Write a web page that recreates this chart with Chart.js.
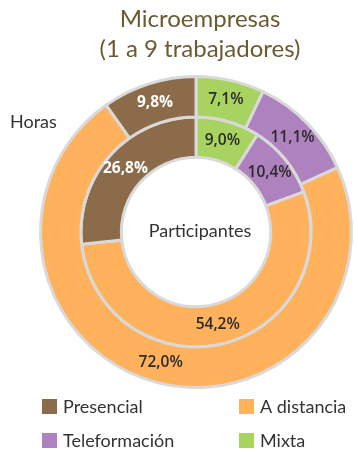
<!DOCTYPE html>
<html>
<head>
<meta charset="utf-8">
<script src="https://cdn.jsdelivr.net/npm/chart.js@4.4.1/dist/chart.umd.min.js"></script>
<style>
  html, body { margin: 0; padding: 0; background: #fff; }
  #wrap { width: 358px; height: 453px; position: relative; }
</style>
</head>
<body>
<div id="wrap"><canvas id="myChart" width="358" height="453"></canvas></div>
<script>
// modalidades, en el orden del anillo (sentido horario desde arriba)
const categorias = ['Mixta', 'Teleformación', 'A distancia', 'Presencial'];
const colores = ['#A9D361', '#AE82BE', '#FFB15B', '#8B6B4A'];
// anillo exterior: horas (%)
const horas = [7.1, 11.1, 72.0, 9.8];
// anillo interior: participantes (%)
const participantes = [9.0, 10.4, 54.2, 26.8];
// orden de la leyenda
const leyenda = ['Presencial', 'A distancia', 'Teleformación', 'Mixta'];

const titulo = ['Microempresas', '(1 a 9 trabajadores)'];

function colorDe(nombre) {
    return colores[categorias.indexOf(nombre)];
}

// etiquetas de porcentaje sobre cada segmento
const etiquetasPlugin = {
    id: 'etiquetas',
    afterDatasetsDraw(chart) {
        const ctx = chart.ctx;
        ctx.save();
        ctx.textAlign = 'center';
        ctx.textBaseline = 'middle';
        chart.data.datasets.forEach((ds, i) => {
            chart.getDatasetMeta(i).data.forEach((arc, j) => {
                const p = arc.tooltipPosition();
                const txt = ds.data[j].toFixed(1).replace('.', ',') + '%';
                const blanco = categorias[j] === 'Presencial';
                ctx.font = (blanco ? '700' : '600') + ' 15.5px "Open Sans", sans-serif';
                ctx.fillStyle = blanco ? '#ffffff' : '#2b2b2b';
                ctx.fillText(txt, p.x, p.y);
            });
        });
        ctx.restore();
    }
};

// título, textos de los anillos y leyenda
const textosPlugin = {
    id: 'textos',
    afterDraw(chart) {
        const ctx = chart.ctx;
        const area = chart.chartArea;
        const cx = (area.left + area.right) / 2;
        const cy = (area.top + area.bottom) / 2;
        ctx.save();
        ctx.textBaseline = 'alphabetic';
        ctx.textAlign = 'center';
        ctx.fillStyle = '#6B5A32';
        ctx.font = '24px Lato, "Open Sans", sans-serif';
        ctx.fillText(titulo[0], 200, 27);
        ctx.fillText(titulo[1], 200, 57);

        ctx.fillStyle = '#333333';
        ctx.font = '18px Lato, "Open Sans", sans-serif';
        ctx.textBaseline = 'middle';
        ctx.fillText('Participantes', cx + 4, cy - 1);
        ctx.textAlign = 'left';
        ctx.fillText('Horas', 10, 122);

        // leyenda en dos columnas
        const colX = [42, 239];
        const filaY = [406, 440];
        leyenda.forEach((nombre, k) => {
            const x = colX[k % 2];
            const y = filaY[Math.floor(k / 2)];
            ctx.fillStyle = colorDe(nombre);
            ctx.fillRect(x, y - 7, 15, 15);
            ctx.fillStyle = '#333333';
            ctx.fillText(nombre, x + 21, y + 1);
        });
        ctx.restore();
    }
};

const config = {
    type: 'doughnut',
    data: {
        labels: categorias,
        datasets: [
            {
                label: 'Horas',
                data: horas,
                backgroundColor: colores,
                borderColor: '#D9D9D9',
                borderWidth: 3
            },
            {
                label: 'Participantes',
                data: participantes,
                backgroundColor: colores,
                borderColor: '#D9D9D9',
                borderWidth: 3
            }
        ]
    },
    options: {
        responsive: false,
        animation: false,
        cutout: '48%',
        layout: {
            padding: { left: 39, right: 5, top: 75, bottom: 64 }
        },
        plugins: {
            legend: { display: false },
            tooltip: { enabled: false }
        }
    },
    plugins: [etiquetasPlugin, textosPlugin]
};

new Chart(document.getElementById('myChart').getContext('2d'), config);
</script>
</body>
</html>
